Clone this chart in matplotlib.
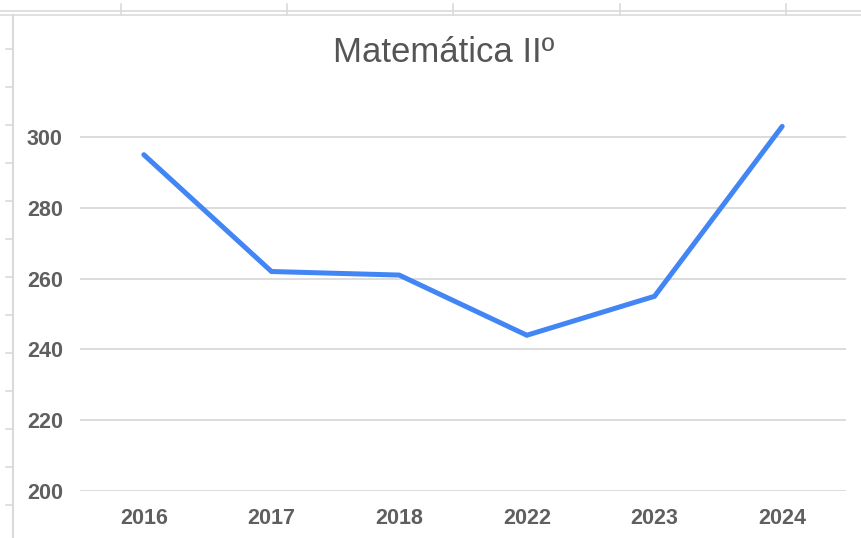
import matplotlib
matplotlib.use("Agg")
import matplotlib.pyplot as plt
from matplotlib.lines import Line2D

# Data
years = ["2016", "2017", "2018", "2022", "2023", "2024"]
scores = [295, 262, 261, 244, 255, 303]
y_ticks = [200, 220, 240, 260, 280, 300]
title = "Matemática IIº"

plt.rcParams['font.family'] = ['Liberation Sans', 'DejaVu Sans']

W, H = 861, 538
fig = plt.figure(figsize=(W / 100, H / 100), dpi=100)

# spreadsheet cell borders around the chart
frame = "#dadada"
fig.add_artist(Line2D([0, 1], [1 - 11 / H, 1 - 11 / H], color=frame, lw=1.2))
fig.add_artist(Line2D([0, 1], [1 - 15 / H, 1 - 15 / H], color=frame, lw=1.2))
fig.add_artist(Line2D([13 / W, 13 / W], [0, 1 - 15 / H], color=frame, lw=1.5))
for x in [121, 287, 453, 620, 786]:
    fig.add_artist(Line2D([x / W, x / W], [1 - 4 / H, 1 - 15 / H], color=frame, lw=1.2))
for y in range(49, 538, 38):
    fig.add_artist(Line2D([6 / W, 13 / W], [1 - y / H, 1 - y / H], color=frame, lw=1.2))

# axes: gridline 300 at y=137px, 200 at y=491px
px_per_unit = (491 - 137) / 100
ymax = 310
top_px = 491 - (ymax - 200) * px_per_unit
ax = fig.add_axes([80 / W, 1 - 491 / H, (846 - 80) / W, (491 - top_px) / H])

x = range(len(years))
ax.plot(x, scores, color="#4285f4", lw=3.6, solid_capstyle="round",
        solid_joinstyle="miter", zorder=3)

ax.set_xlim(-0.5, len(years) - 0.5)
ax.set_ylim(200, ymax)
ax.set_yticks(y_ticks)
ax.set_xticks(list(x))
ax.set_xticklabels(years)
ax.grid(axis="y", color="#d9d9d9", lw=1.3)
ax.set_axisbelow(True)
for s in ax.spines.values():
    s.set_visible(False)
ax.tick_params(length=0, labelsize=15.5, labelcolor="#5f5f5f")
ax.tick_params(axis="y", pad=0)
ax.tick_params(axis="x", pad=12)
for lab in ax.get_xticklabels() + ax.get_yticklabels():
    lab.set_fontweight("bold")
for lab in ax.get_yticklabels():
    lab.set_horizontalalignment("left")
    lab.set_x(-53 / (846 - 80))

fig.text(444 / W, 1 - 52 / H, title, ha="center", va="center",
         fontsize=25, color="#555555")

fig.savefig("out.png", dpi=100)
